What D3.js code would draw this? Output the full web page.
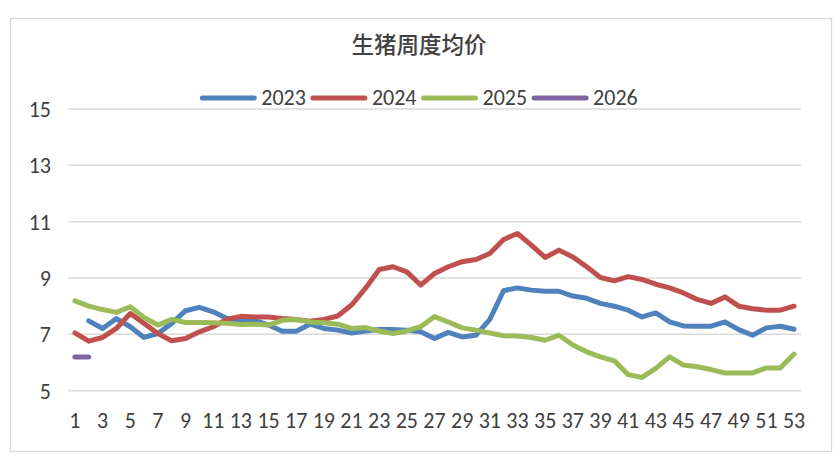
<!DOCTYPE html>
<html><head><meta charset="utf-8">
<script src="https://cdn.jsdelivr.net/npm/d3@7/dist/d3.min.js"></script>
<style>
html,body{margin:0;padding:0;background:#fff;}
text{font-family:Carlito,"Liberation Sans Narrow","DejaVu Sans Condensed",sans-serif;fill:#404040;}
</style></head>
<body><svg id="c" width="836" height="464"></svg>
<script>
const title = "生猪周度均价";
const weeks = d3.range(1, 54);
const yTicks = [5, 7, 9, 11, 13, 15];
const seriesNames = ["2023", "2024", "2025", "2026"];
const colors = ["#4F81BD", "#C0504D", "#9BBB59", "#8064A2"];
const v2023 = [null,7.48,7.21,7.56,7.27,6.89,7.03,7.39,7.84,7.96,7.80,7.56,7.50,7.50,7.33,7.11,7.11,7.36,7.21,7.15,7.05,7.12,7.17,7.17,7.15,7.09,6.85,7.07,6.91,6.97,7.53,8.55,8.65,8.57,8.53,8.53,8.36,8.28,8.10,8.00,7.86,7.62,7.76,7.44,7.30,7.29,7.29,7.44,7.17,6.97,7.23,7.29,7.18];
const v2024 = [7.05,6.76,6.89,7.21,7.74,7.39,7.03,6.77,6.85,7.09,7.27,7.54,7.64,7.62,7.62,7.56,7.53,7.47,7.53,7.65,8.04,8.63,9.30,9.40,9.22,8.75,9.16,9.40,9.58,9.66,9.87,10.37,10.58,10.17,9.73,9.99,9.75,9.40,9.02,8.90,9.05,8.95,8.78,8.65,8.47,8.24,8.10,8.33,8.00,7.91,7.86,7.86,8.00];
const v2025 = [8.19,8.00,7.88,7.78,7.98,7.60,7.33,7.53,7.42,7.42,7.41,7.39,7.35,7.36,7.33,7.50,7.53,7.44,7.41,7.36,7.21,7.24,7.12,7.03,7.12,7.27,7.63,7.44,7.23,7.15,7.05,6.95,6.94,6.89,6.79,6.97,6.62,6.38,6.20,6.06,5.57,5.47,5.79,6.20,5.91,5.85,5.75,5.63,5.63,5.63,5.81,5.81,6.30];
const v2026 = [6.20,6.20];
const allSeries = [v2023, v2024, v2025, v2026];

const svg = d3.select("#c");
svg.append("rect").attr("x",10.5).attr("y",18.5).attr("width",821).attr("height",433)
  .attr("fill","#fff").attr("stroke","#D9D9D9").attr("stroke-width",1.3);

const x = d3.scaleBand().domain(weeks).range([68, 801]);
const y = d3.scaleLinear().domain([5, 15]).range([390.7, 109]);
const xc = w => x(w) + x.bandwidth()/2;

svg.append("g").selectAll("line").data(yTicks).join("line")
  .attr("x1",68).attr("x2",801).attr("y1",d=>y(d)).attr("y2",d=>y(d))
  .attr("stroke","#D9D9D9").attr("stroke-width",1.5);

const yAxis = d3.axisLeft(y).tickValues(yTicks).tickSize(0).tickPadding(0);
const gy = svg.append("g").attr("transform","translate(51,0)").call(yAxis);
gy.select(".domain").remove();
gy.selectAll("text").style("font-size","22px").attr("fill","#404040").attr("dy","0.34em");

const xAxis = d3.axisBottom(x).tickValues(weeks.filter(w => w % 2 === 1)).tickSize(0).tickPadding(0);
const gx = svg.append("g").attr("transform","translate(0,428)").call(xAxis);
gx.select(".domain").remove();
gx.selectAll("text").style("font-size","22px").attr("fill","#404040").attr("dy","0");

const line = d3.line().defined(d => d.v != null).x(d => xc(d.w)).y(d => y(d.v));
allSeries.forEach((vals, i) => {
  svg.append("path")
    .datum(vals.map((v, j) => ({w: weeks[j], v})))
    .attr("d", line).attr("fill","none").attr("stroke", colors[i])
    .attr("stroke-width", 5).attr("stroke-linejoin","round").attr("stroke-linecap","round");
});

svg.append("text").attr("x",419).attr("y",53).attr("text-anchor","middle")
  .style("font-family","'Noto Sans CJK SC',sans-serif").style("font-size","22.5px").style("font-weight","500")
  .style("fill","#404040").text(title);

const lg = svg.append("g");
let cx = 0;
seriesNames.forEach((n, i) => {
  const g = lg.append("g").attr("transform", `translate(${cx},0)`);
  g.append("line").attr("x1",2).attr("x2",54).attr("y1",0).attr("y2",0)
    .attr("stroke",colors[i]).attr("stroke-width",5).attr("stroke-linecap","round");
  const t = g.append("text").attr("x",61).attr("y",0).attr("dy","0.34em").style("font-size","22px").text(n);
  cx += 61 + t.node().getComputedTextLength() + 5;
});
const totalW = cx - 5;
lg.attr("transform", `translate(${419 - totalW/2},98)`);
</script></body></html>
